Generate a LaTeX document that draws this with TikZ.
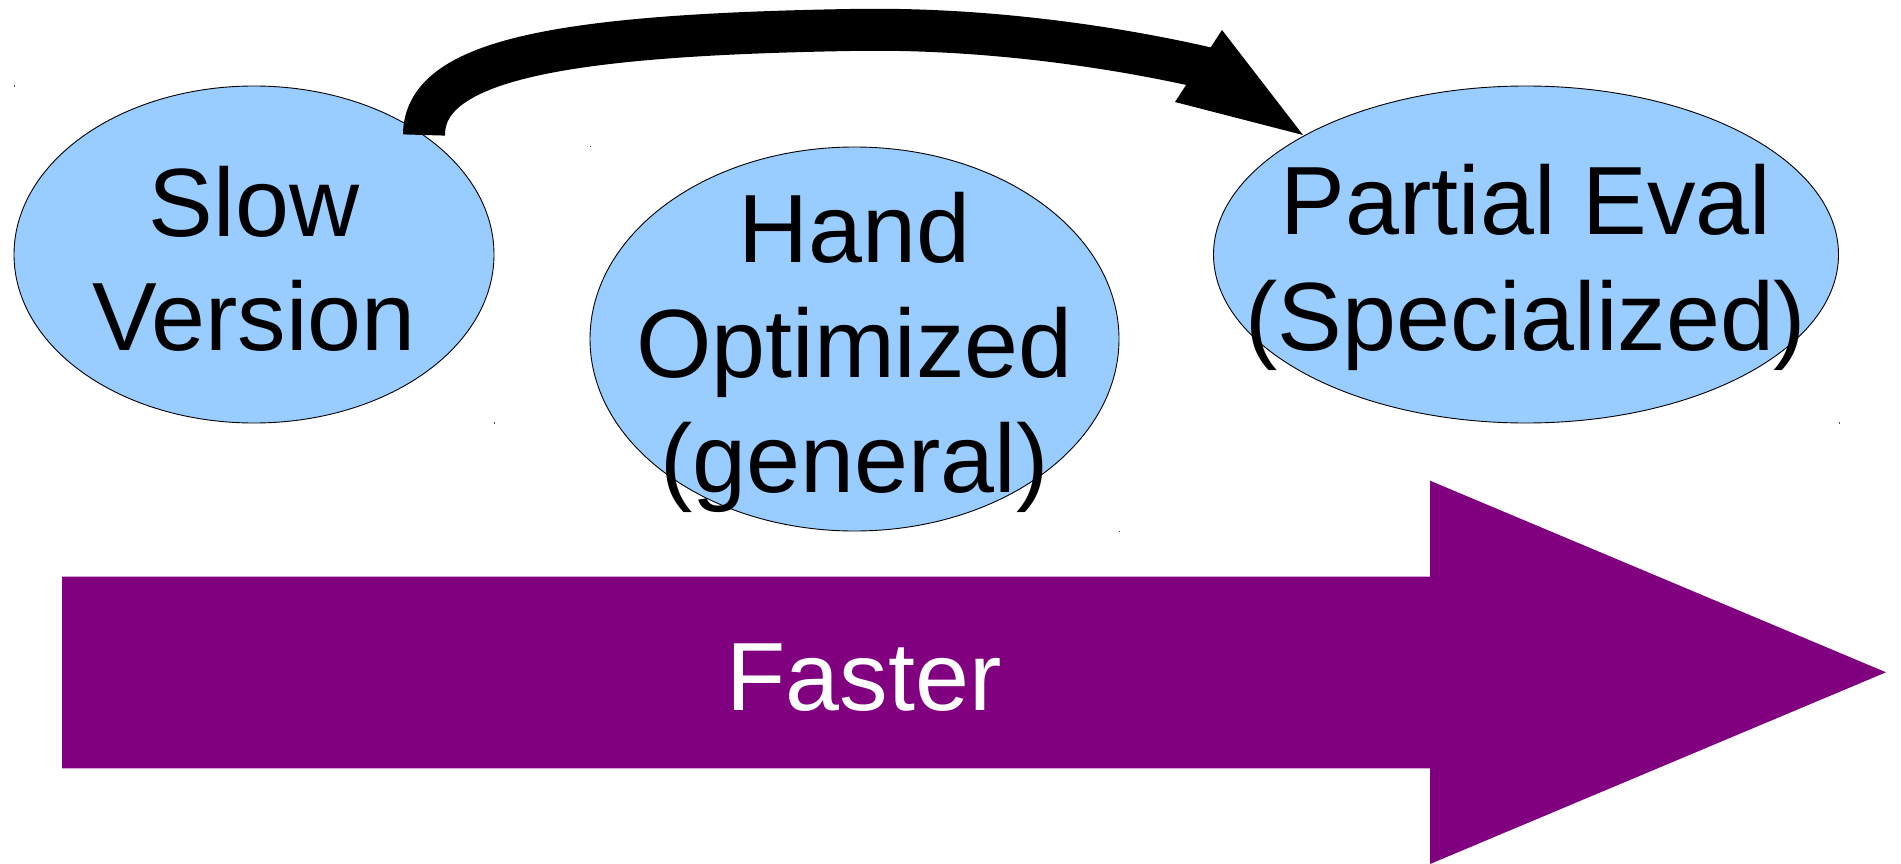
\documentclass[tikz,border=0pt]{standalone}
\usepackage{fontspec}
\setmainfont{Liberation Sans}
\usetikzlibrary{shapes.geometric}
\definecolor{ellblue}{HTML}{99CCFF}
\definecolor{arrpurple}{HTML}{800080}
\begin{document}
\begin{tikzpicture}[x=1pt,y=-1pt,
  ell/.style={ellipse, draw=black, line width=0.9pt, fill=ellblue, inner sep=0pt},
  lbl/.style={font=\fontsize{97}{114}\selectfont, anchor=base, inner sep=0pt},
  speck/.style={fill=black!70},
  bigarrow/.style={line width=42pt, draw=black},
]
\useasboundingbox (0,0) rectangle (1901,864);
\fill[white] (0,0) rectangle (1901,864);

% ellipses
\node[ell, minimum width=480pt, minimum height=337pt] (slow) at (254,254.5) {};
\node[ell, minimum width=529pt, minimum height=384pt] (hand) at (854.5,339) {};
\node[ell, minimum width=625pt, minimum height=337pt] (pe) at (1526,254.5) {};

% labels
\node[lbl] (slowA) at (254,236) {Slow};
\node[lbl] (slowB) at (254,350) {Version};
\node[lbl] (handA) at (854.5,262) {Hand};
\node[lbl] (handB) at (854.5,377) {Optimized};
\node[lbl] (handC) at (854.5,492) {(general)};
\node[lbl] (peA) at (1526,234) {Partial Eval};
\node[lbl] (peB) at (1526,350) {(Specialized)};

% curved black arrow from slow to pe
\coordinate (a0) at (424,135);
\coordinate (a1) at (850,30);
\coordinate (a2) at (1215,70);
\coordinate (tip) at (1303,135);
\coordinate (hb1) at (1222,30);
\coordinate (hb2) at (1175,102);
\draw[bigarrow] (a0) .. controls (424,60) and (560,35) .. (a1)
                     .. controls (1000,27) and (1140,52) .. (a2);
\fill[black] (tip) -- (hb1) -- (hb2) -- cycle;

% purple block arrow
\fill[arrpurple] (62,576.7) -- (1430,576.7) -- (1430,480.7) -- (1886,672.3)
  -- (1430,864) -- (1430,768.3) -- (62,768.3) -- cycle;
\node[lbl, text=white] (fast) at (864,710.7) {Faster};

% tiny specks
\fill[speck] (13.5,85.5) rectangle (15,87);
\fill[speck] (589.5,146) rectangle (591,147.5);
\fill[speck] (493.5,422) rectangle (495,423.5);
\fill[speck] (1118.5,530.5) rectangle (1120,532);
\fill[speck] (1838.5,422) rectangle (1840,423.5);
\end{tikzpicture}
\end{document}
